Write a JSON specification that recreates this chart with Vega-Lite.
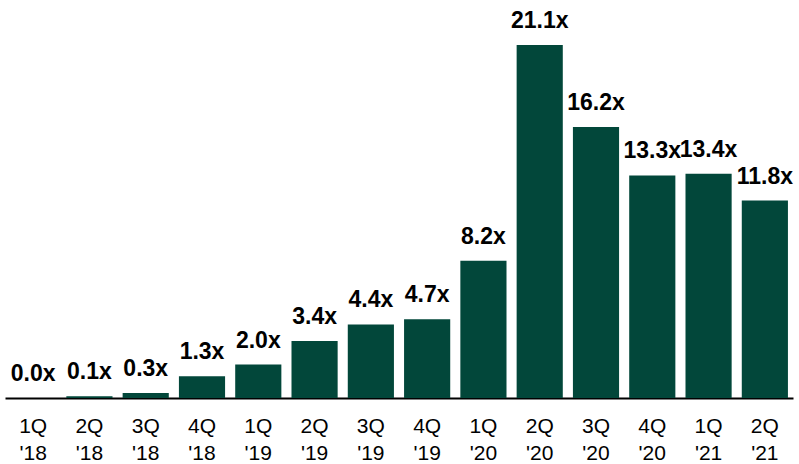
{
  "$schema": "https://vega.github.io/schema/vega-lite/v6.json",
  "width": 788,
  "height": 398,
  "autosize": "none",
  "padding": {"left": 5, "top": 0, "right": 6, "bottom": 66},
  "background": "white",
  "config": {"view": {"stroke": null}, "font": "Liberation Sans"},
  "data": {"values": [
    {"q": "1Q '18", "v": 0.0, "t": "0.0x"},
    {"q": "2Q '18", "v": 0.1, "t": "0.1x"},
    {"q": "3Q '18", "v": 0.3, "t": "0.3x"},
    {"q": "4Q '18", "v": 1.3, "t": "1.3x"},
    {"q": "1Q '19", "v": 2.0, "t": "2.0x"},
    {"q": "2Q '19", "v": 3.4, "t": "3.4x"},
    {"q": "3Q '19", "v": 4.4, "t": "4.4x"},
    {"q": "4Q '19", "v": 4.7, "t": "4.7x"},
    {"q": "1Q '20", "v": 8.2, "t": "8.2x"},
    {"q": "2Q '20", "v": 21.1, "t": "21.1x"},
    {"q": "3Q '20", "v": 16.2, "t": "16.2x"},
    {"q": "4Q '20", "v": 13.3, "t": "13.3x"},
    {"q": "1Q '21", "v": 13.4, "t": "13.4x"},
    {"q": "2Q '21", "v": 11.8, "t": "11.8x"}
  ]},
  "encoding": {
    "x": {
      "field": "q", "type": "nominal", "sort": null,
      "scale": {"paddingInner": 0.18, "paddingOuter": 0.09},
      "axis": {
        "title": null, "labelAngle": 0, "ticks": false,
        "domainColor": "#000000", "domainWidth": 2,
        "labelFontSize": 21, "labelColor": "#000000",
        "labelLineHeight": 27, "labelPadding": 17,
        "labelExpr": "split(datum.label, ' ')"
      }
    },
    "y": {
      "field": "v", "type": "quantitative",
      "scale": {"domain": [0, 23.79], "nice": false},
      "axis": null
    }
  },
  "layer": [
    {"mark": {"type": "bar", "color": "#02473A"}},
    {"mark": {"type": "text", "fontSize": 23, "fontWeight": "bold", "color": "#000000", "baseline": "alphabetic", "dy": -17},
     "encoding": {"text": {"field": "t"}}}
  ]
}
